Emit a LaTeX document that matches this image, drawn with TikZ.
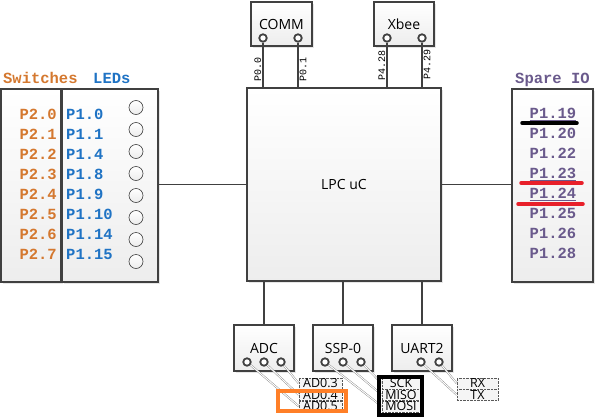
\documentclass[tikz,border=0pt]{standalone}
\usepackage{fontspec}
\setmainfont{Open Sans}
\setmonofont{Liberation Mono}
\usetikzlibrary{shadows,positioning}

\definecolor{swcol}{HTML}{D4782F}
\definecolor{ledcol}{HTML}{1F73C4}
\definecolor{iocol}{HTML}{6A5A8C}
\definecolor{edge}{HTML}{404040}
\definecolor{hiorange}{HTML}{FF7F27}
\definecolor{hired}{HTML}{E8202A}

\begin{document}
\begin{tikzpicture}[x=1pt,y=-1pt,
    blk/.style={draw=edge, line width=2.4pt, top color=white, bottom color=gray!14,
        drop shadow={opacity=0.2,shadow xshift=2pt,shadow yshift=-2pt},
        font=\fontsize{14}{14}\selectfont, inner sep=0pt},
    plug/.style={circle, draw=edge, fill=white, line width=1.8pt, minimum size=7.5pt, inner sep=0pt},
    lamp/.style={circle, draw=edge, line width=0.6pt, top color=white, bottom color=gray!15, minimum size=14pt, inner sep=0pt},
    wire/.style={draw=edge, line width=1.6pt},
    thinwire/.style={draw=gray, line width=0.4pt, double=white, double distance=1pt},
    tag/.style={draw=gray!70!black, densely dotted, fill=gray!8, minimum height=11pt, inner sep=0pt,
        font=\fontsize{12.5}{12.5}\selectfont},
    pinno/.style={font=\ttfamily\bfseries\fontsize{15.5}{15.5}\selectfont, inner sep=0pt},
    portno/.style={font=\ttfamily\fontsize{10}{10}\selectfont, inner sep=1pt, rotate=90},
    hilite/.style={line width=3.5pt, line cap=round}]
\useasboundingbox (0,0) rectangle (598,418);

% processor and the blocks round it
\node[blk, minimum width=194, minimum height=193] (lpc) at (344,184.5) {LPC uC};
\node[blk, minimum width=61, minimum height=44] (comm) at (281.5,24) {COMM};
\node[blk, minimum width=60, minimum height=44] (xbee) at (404,24) {Xbee};
\node[blk, minimum width=60, minimum height=46] (adc) at (264,348) {ADC};
\node[blk, minimum width=60, minimum height=46] (ssp) at (343,348) {SSP-0};
\node[blk, minimum width=60, minimum height=46] (uart) at (422,348) {UART2};

\node[plug] (comm1) at (263,38) {};
\node[plug] (comm2) at (298,38) {};
\node[plug] (xbee1) at (387,38) {};
\node[plug] (xbee2) at (422,38) {};
\foreach \k/\px in {1/247,2/264,3/281} \node[plug] (adc\k) at (\px,362) {};
\foreach \k/\px in {1/325,2/343,3/361} \node[plug] (ssp\k) at (\px,362) {};
\foreach \k/\px in {1/421,2/439} \node[plug] (uart\k) at (\px,362) {};

\draw[wire] (comm1) -- (comm1 |- lpc.north) node[portno, pos=.6, above] {P0.0};
\draw[wire] (comm2) -- (comm2 |- lpc.north) node[portno, pos=.6, below] {P0.1};
\draw[wire] (xbee1) -- (xbee1 |- lpc.north) node[portno, pos=.52, above] {P4.28};
\draw[wire] (xbee2) -- (xbee2 |- lpc.north) node[portno, pos=.5, below] {P4.29};
\foreach \b in {adc,ssp,uart}
    \draw[wire] (\b.north) -- (\b.north |- lpc.south);

% switches and leds
\node[blk, minimum width=60, minimum height=193] (sw) at (31,185.5) {};
\node[blk, minimum width=96, minimum height=193] (led) at (110,185.5) {};
\node[pinno, text=swcol, anchor=base west] (swhd) at (3,83) {Switches};
\node[pinno, text=ledcol, anchor=base west] (ledhd) at (93,83) {LEDs};
\foreach \i in {0,...,7}
    \node[pinno, text=swcol, anchor=east] (sw\i) at (57,114+20*\i) {P2.\i};
\foreach \p [count=\i from 0] in {0,1,4,8,9,10,14,15}
    \node[pinno, text=ledcol, anchor=west] (led\p) at (66,114+20*\i) {P1.\p};
\foreach \i in {0,...,7}
    \node[lamp] (lamp\i) at (136,107.5+22*\i) {};
\draw[wire] (led.east |- lpc.west) -- (lpc.west);

% spare pins
\node[blk, minimum width=81, minimum height=193] (spare) at (552.5,185.5) {};
\node[pinno, text=iocol, anchor=base west] (sparehd) at (515,83) {Spare IO};
\foreach \p [count=\i from 0] in {19,20,22,23,24,25,26,28}
    \node[pinno, text=iocol] (io\p) at (553,113+20*\i) {P1.\p};
\foreach \p in {19,23,24}
    \draw[iocol, line width=0.7pt] ([yshift=-2pt]io\p.base west) -- ([yshift=-2pt]io\p.base east);
\draw[wire] (lpc.east) -- (lpc.east -| spare.west);
\draw[hilite, black] (522,123) -- (577,123);
\draw[hilite, hired] (521,183) -- (582,183);
\draw[hilite, hired] (518,204) -- (583,204);

% pin names under the blocks
\node[tag, minimum width=43] (ad3) at (320.5,383.5) {AD0.3};
\node[tag, minimum width=43, below=0pt of ad3] (ad4) {AD0.4};
\node[tag, minimum width=43, below=0pt of ad4] (ad5) {AD0.5};
\node[tag, minimum width=38] (sck) at (401,383.5) {SCK};
\node[tag, minimum width=38, below=0pt of sck] (miso) {MISO};
\node[tag, minimum width=38, below=0pt of miso] (mosi) {MOSI};
\node[tag, minimum width=41] (rx) at (477.5,383.5) {RX};
\node[tag, minimum width=41, below=0pt of rx] (tx) {TX};

\draw[thinwire] (adc3) -- (ad3.west);
\draw[thinwire] (adc2) -- (ad4.west);
\draw[thinwire] (adc1) -- (ad5.west);
\draw[thinwire] (ssp3) -- (sck.west);
\draw[thinwire] (ssp2) -- (miso.west);
\draw[thinwire] (ssp1) -- (mosi.west);
\draw[thinwire] (uart2) -- (rx.west);
\draw[thinwire] (uart1) -- (tx.west);

\draw[hiorange, line width=4pt] (278,391) rectangle (346,411);
\draw[black, line width=4pt] (379,377) rectangle (422,415);
\end{tikzpicture}
\end{document}
